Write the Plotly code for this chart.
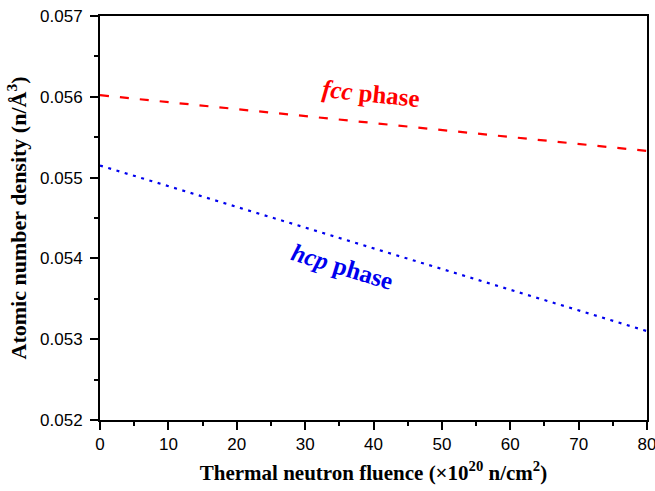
import plotly.graph_objects as go

fluence = [0, 80]
fcc_density = [0.05602, 0.05533]
hcp_density = [0.05515, 0.05310]

x_ticks = [0, 10, 20, 30, 40, 50, 60, 70, 80]
y_ticks = [0.052, 0.053, 0.054, 0.055, 0.056, 0.057]

fig = go.Figure()
fig.add_trace(go.Scatter(x=fluence, y=fcc_density, mode="lines",
                         line=dict(color="#ff0000", width=2.2, dash="9px,11px"), showlegend=False))
fig.add_trace(go.Scatter(x=fluence, y=hcp_density, mode="lines",
                         line=dict(color="#0000ee", width=2.2, dash="3px,5.6px"), showlegend=False))

axis_common = dict(showline=True, linecolor="black", linewidth=2, mirror=True,
                   ticks="outside", ticklen=8, tickwidth=2, tickcolor="black",
                   showgrid=False, zeroline=False, automargin=False,
                   ticklabeloverflow="allow",
                   tickfont=dict(family="Liberation Sans, Arial", size=17, color="black"))

fig.update_xaxes(range=[0, 80], tickvals=x_ticks, ticktext=[str(v) for v in x_ticks],
                 minor=dict(dtick=5, ticks="outside", ticklen=4, tickwidth=2, tickcolor="black"),
                 title=dict(text="<b>Thermal neutron fluence (×10<sup>20</sup> n/cm<sup>2</sup>)</b>",
                            font=dict(family="Liberation Serif, Times New Roman", size=21, color="black"),
                            standoff=12),
                 **axis_common)
fig.update_yaxes(range=[0.052, 0.057], tickvals=y_ticks, ticktext=[f"{v:.3f}" for v in y_ticks],
                 minor=dict(dtick=0.0005, ticks="outside", ticklen=4, tickwidth=2, tickcolor="black"),
                 title=dict(text="<b>Atomic number density (n/Å<sup>3</sup>)</b>",
                            font=dict(family="Liberation Serif, Times New Roman", size=22, color="black"),
                            standoff=7),
                 ticklabelstandoff=4,
                 **axis_common)

fig.add_annotation(x=39.6, y=0.05604, text="<b><i>fcc</i> phase</b>", showarrow=False,
                   textangle=6, font=dict(family="Liberation Serif, Times New Roman", size=25, color="#ff0000"))
fig.add_annotation(x=35.4, y=0.053906, text="<b><i>hcp</i> phase</b>", showarrow=False,
                   textangle=17, font=dict(family="Liberation Serif, Times New Roman", size=25, color="#0000ee"))

fig.update_layout(width=655, height=491, margin=dict(l=100, r=8, t=16, b=71),
                  plot_bgcolor="white", paper_bgcolor="white")
fig.write_html("out.html")
